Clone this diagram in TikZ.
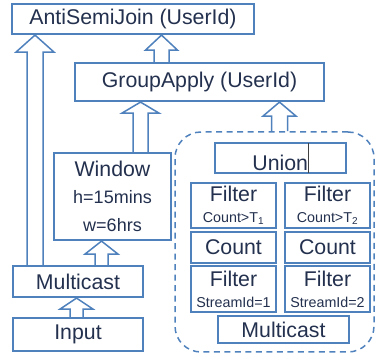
\documentclass[tikz,border=0pt]{standalone}
\usepackage{fontspec}
\setmainfont{Liberation Sans}
\usetikzlibrary{calc,positioning,backgrounds}
\definecolor{opblue}{RGB}{79,129,189}
\definecolor{optext}{RGB}{35,48,78}
\tikzset{
  opbox/.style={rectangle, draw=opblue, line width=2.2pt, fill=white,
                text=optext, inner sep=0pt, align=center,
                font=\fontsize{21.3}{24}\selectfont},
  flowarrow/.style={draw=opblue, line width=1.5pt, fill=white, line join=miter},
  subplan/.style={rectangle, draw=opblue, line width=1.5pt,
                  dash pattern=on 6pt off 4.5pt, rounded corners=26pt},
}
% small second line of an operator box
\newcommand\opparam[2]{{\fontsize{#1}{#1}\selectfont #2}}
% hollow block arrow going up from one box to the next
\newcommand\flowup[6]{% x, shaft half width, head half width, head length, from, to
  \draw[flowarrow] let \p1=(#5.north), \p2=(#6.south) in
    (#1pt-#2pt,\y1) -- (#1pt-#2pt,\y2-#4pt) -- (#1pt-#3pt,\y2-#4pt) -- (#1pt,\y2)
    -- (#1pt+#3pt,\y2-#4pt) -- (#1pt+#2pt,\y2-#4pt) -- (#1pt+#2pt,\y1);
}

\begin{document}
\begin{tikzpicture}[x=1pt,y=1pt]
  \useasboundingbox (0,0) rectangle (375,356);

  % main plan
  \node[opbox, minimum width=242pt, minimum height=30pt] (asj) at (133,337) {AntiSemiJoin (UserId)};
  \node[opbox, minimum width=249pt, minimum height=38pt] (gapply) at (199.5,274) {GroupApply (UserId)};
  \node[opbox, minimum width=117pt, minimum height=87pt] (win) at (112.5,159.5)
    {Window\\[3pt]\opparam{18}{h=15mins}\\[4pt]\opparam{18}{w=6hrs}};
  \node[opbox, minimum width=130pt, minimum height=31pt] (mcast) at (78,74.5) {Multicast};
  \node[opbox, minimum width=130pt, minimum height=33pt] (input) at (78,21.5) {Input};

  % per-group sub-plan
  \node[subplan, minimum width=199pt, minimum height=220pt] (grp) at (274.5,114) {};
  \node[opbox, minimum width=131pt, minimum height=30pt] (union) at (280.5,198)
    {Union{\color{black!75}\rule[-0.2ex]{0.6pt}{2.6ex}}};
  \node[opbox, minimum width=85pt, minimum height=45pt] (cnt1) at (233.5,150.5)
    {Filter\\[-3pt]\opparam{14.3}{Count>T\textsubscript{1}}};
  \node[opbox, minimum width=85pt, minimum height=45pt] (cnt2) at (327.5,150.5)
    {Filter\\[-3pt]\opparam{14.3}{Count>T\textsubscript{2}}};
  \node[opbox, minimum width=85pt, minimum height=31pt] (count1) at (233.5,108.5) {Count};
  \node[opbox, minimum width=85pt, minimum height=31pt] (count2) at (327.5,108.5) {Count};
  \node[opbox, minimum width=85pt, minimum height=46pt] (sid1) at (233.5,67)
    {Filter\\[-3pt]\opparam{14.3}{StreamId=1}};
  \node[opbox, minimum width=85pt, minimum height=46pt] (sid2) at (327.5,67)
    {Filter\\[-3pt]\opparam{14.3}{StreamId=2}};
  \node[opbox, minimum width=131pt, minimum height=27pt] (mcast2) at (283.5,26.5) {Multicast};

  % data flow
  \begin{scope}[on background layer]
    \flowup{76.5}{6.5}{16.5}{11}{input}{mcast}
    \flowup{101.5}{6.5}{16.5}{13}{mcast}{win}
    \flowup{35}{8}{19}{17}{mcast}{asj}
    \flowup{140.5}{7.5}{18.5}{11}{win}{gapply}
    \flowup{279.5}{8}{16.5}{14}{grp}{gapply}
    \flowup{161.5}{7.5}{16}{15}{gapply}{asj}
  \end{scope}
\end{tikzpicture}
\end{document}
